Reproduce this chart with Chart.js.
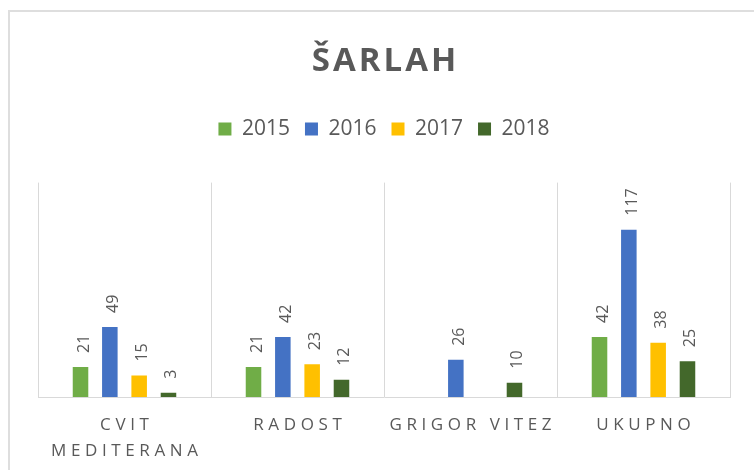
<!DOCTYPE html>
<html>
<head>
<meta charset="utf-8">
<script src="https://cdn.jsdelivr.net/npm/chart.js@4/dist/chart.umd.min.js"></script>
<style>
  html, body { margin: 0; padding: 0; background: #ffffff; width: 754px; height: 470px; overflow: hidden; }
  #frame { position: absolute; left: 8px; top: 10px; width: 800px; height: 520px; border: 2px solid #dedede; box-sizing: border-box; }
  #wrap { position: absolute; left: 0; top: 0; width: 754px; height: 470px; }
</style>
</head>
<body>
<div id="frame"></div>
<div id="wrap"><canvas id="c" width="754" height="470"></canvas></div>
<script>
const chartTitle = 'ŠARLAH';
const categories = [['CVIT', 'MEDITERANA'], 'RADOST', 'GRIGOR VITEZ', 'UKUPNO'];
const seriesNames = ['2015', '2016', '2017', '2018'];
const values2015 = [21, 21, null, 42];
const values2016 = [49, 42, 26, 117];
const values2017 = [15, 23, null, 38];
const values2018 = [3, 12, 10, 25];
const seriesColors = ['#70AD47', '#4472C4', '#FFC000', '#43682B'];

const FONT = "'Open Sans', 'Liberation Sans', sans-serif";
const TEXT = '#595959';

function withSpacing(obj, method, spacing) {
  if (!obj || obj['_sp_' + method]) return;
  const orig = obj[method];
  obj[method] = function (...args) {
    const ctx = this.ctx;
    ctx.save();
    try { ctx.letterSpacing = spacing + 'px'; } catch (e) {}
    ctx.translate(spacing / 2, 0);
    const r = orig.apply(this, args);
    ctx.restore();
    return r;
  };
  obj['_sp_' + method] = true;
}

const helperPlugin = {
  id: 'helper',
  beforeUpdate(chart) {
    const lg = chart.legend;
    if (lg && !lg._extraFit) {
      const origFit = lg.fit;
      lg.fit = function (...a) { origFit.apply(this, a); this.height += 33; };
      lg._extraFit = true;
    }
    if (chart.titleBlock) withSpacing(chart.titleBlock, 'draw', 3);
  },
  afterDatasetsDraw(chart) {
    const ctx = chart.ctx;
    ctx.save();
    ctx.font = '16px ' + FONT;
    ctx.fillStyle = TEXT;
    ctx.textAlign = 'left';
    ctx.textBaseline = 'alphabetic';
    chart.data.datasets.forEach((ds, di) => {
      const meta = chart.getDatasetMeta(di);
      meta.data.forEach((bar, i) => {
        const v = ds.data[i];
        if (v === null || v === undefined) return;
        ctx.save();
        ctx.translate(bar.x + 8, bar.y - 14);
        ctx.rotate(-Math.PI / 2);
        ctx.fillText(String(v), 0, 0);
        ctx.restore();
      });
    });
    ctx.restore();
  }
};

const allValues = [values2015, values2016, values2017, values2018];

new Chart(document.getElementById('c'), {
  type: 'bar',
  data: {
    labels: categories,
    datasets: seriesNames.map((name, k) => ({
      label: name,
      data: allValues[k],
      backgroundColor: seriesColors[k],
      borderWidth: 0,
      categoryPercentage: 0.678,
      barPercentage: 0.53
    }))
  },
  options: {
    responsive: false,
    animation: false,
    devicePixelRatio: 1,
    layout: { padding: { left: 38, right: 24, top: 0, bottom: 0 } },
    plugins: {
      title: {
        display: true,
        text: chartTitle,
        color: TEXT,
        font: { family: FONT, size: 33, weight: 'bold' },
        padding: { top: 42, bottom: 22 }
      },
      legend: {
        position: 'top',
        labels: {
          color: TEXT,
          font: { family: FONT, size: 21 },
          boxWidth: 13,
          boxHeight: 13,
          padding: 15
        }
      },
      tooltip: { enabled: false }
    },
    scales: {
      x: {
        grid: { display: true, color: '#d9d9d9', lineWidth: 1, drawTicks: false, offset: true },
        border: { display: true, color: '#d9d9d9', width: 1 },
        ticks: {
          color: TEXT,
          font: { family: FONT, size: 17, lineHeight: 1.53 },
          padding: 15,
          maxRotation: 0,
          autoSkip: false
        },
        afterFit(scale) { scale.height = 73; withSpacing(scale, 'drawLabels', 4.6); }
      },
      y: {
        display: false,
        min: 0,
        max: 150
      }
    }
  },
  plugins: [helperPlugin]
});
</script>
</body>
</html>
